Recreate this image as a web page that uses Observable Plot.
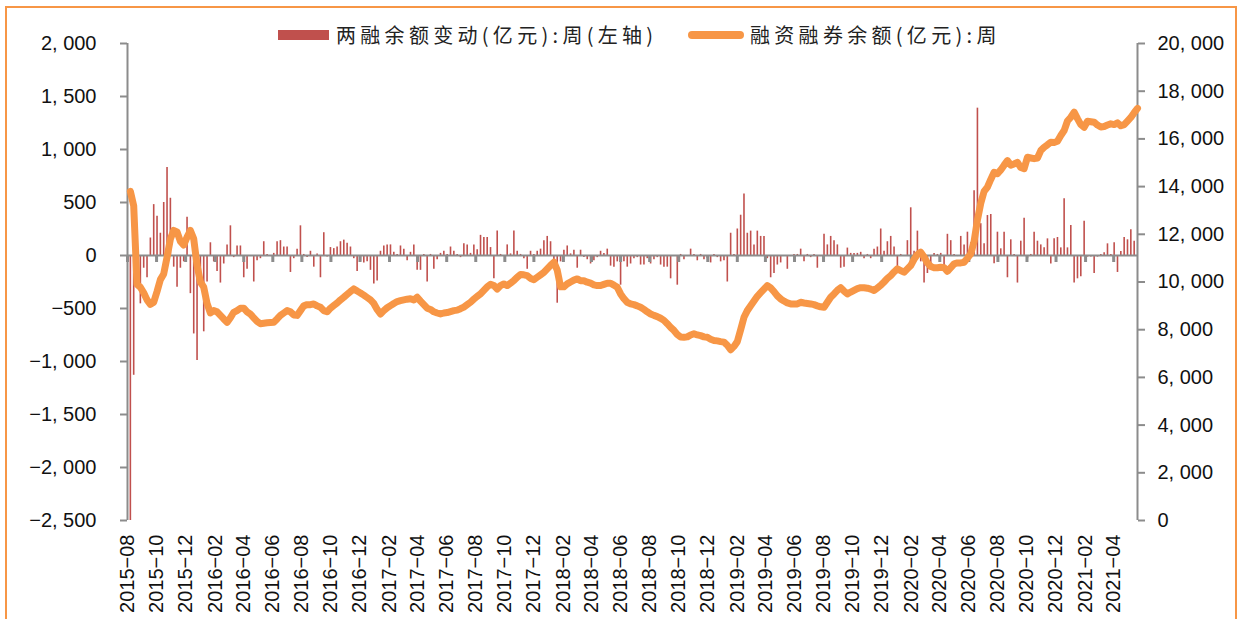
<!DOCTYPE html>
<html><head><meta charset="utf-8">
<script src="https://cdn.jsdelivr.net/npm/d3@7"></script>
<script src="https://cdn.jsdelivr.net/npm/@observablehq/plot@0.6"></script>
<style>
body{margin:0;background:#fff;}
#wrap{position:relative;width:1241px;height:619px;overflow:hidden;background:#fff;}
#frame{position:absolute;left:5px;top:6px;width:1232px;height:700px;border:2px solid #F79646;box-sizing:border-box;}
#chart{position:absolute;left:0;top:0;}
.sw{position:absolute;}
.lt{position:absolute;top:22px;font-family:"Noto Sans CJK SC";font-size:20px;letter-spacing:4.3px;color:#222;white-space:nowrap;line-height:26px;}
</style></head>
<body>
<div id="wrap">
  <div id="frame"></div>
  <div id="chart"></div>
  <div class="sw" style="left:278px;top:30px;width:51px;height:10px;background:#C0504D"></div>
  <div class="lt" style="left:336px">两融余额变动(亿元):周(左轴)</div>
  <div class="sw" style="left:688px;top:31px;width:56px;height:8px;background:#F79646;border-radius:4px"></div>
  <div class="lt" style="left:750px">融资融券余额(亿元):周</div>
</div>
<script>
// weekly data, first week ending 2015-08-07, one value per week
const firstWeek = "2015-08-07";
const seriesBarName = "两融余额变动(亿元):周(左轴)";
const seriesLineName = "融资融券余额(亿元):周";

// 融资融券余额 (亿元), weekly
const balance = [
  13800,13200,9900,9780,9550,9250,9060,9150,9600,10100,
  10340,11040,11800,12160,12100,11700,11550,11880,12160,11810,
  10700,10000,9780,9100,8700,8800,8750,8600,8450,8310,
  8500,8730,8800,8900,8900,8750,8650,8500,8350,8250,
  8270,8290,8300,8310,8450,8600,8700,8800,8750,8620,
  8600,8800,9000,9050,9050,9080,9000,8940,8800,8750,
  8900,9010,9120,9250,9360,9480,9600,9710,9620,9540,
  9450,9350,9250,9100,8850,8660,8800,8920,9010,9100,
  9180,9220,9250,9280,9300,9250,9360,9200,9050,8900,
  8850,8750,8700,8660,8700,8720,8760,8800,8820,8880,
  8950,9050,9150,9280,9400,9500,9650,9800,9900,9850,
  9710,9850,9920,9850,9950,10060,10200,10310,10300,10270,
  10150,10100,10200,10300,10400,10550,10700,10830,10500,9800,
  9800,9920,10000,10080,10130,10050,10050,9990,9950,9880,
  9850,9850,9900,9950,9950,9870,9780,9500,9300,9150,
  9080,9050,9000,8940,8850,8750,8660,8600,8550,8480,
  8390,8250,8100,7970,7800,7690,7680,7700,7780,7830,
  7780,7750,7700,7680,7600,7550,7530,7500,7480,7350,
  7160,7300,7500,8000,8520,8800,9000,9200,9400,9550,
  9700,9850,9750,9600,9420,9290,9200,9120,9080,9080,
  9080,9150,9120,9100,9080,9050,9000,8960,8940,9150,
  9360,9500,9650,9760,9620,9500,9580,9650,9720,9760,
  9760,9740,9700,9640,9750,9860,10000,10150,10270,10420,
  10550,10480,10410,10550,10690,10950,11150,11250,11050,10800,
  10650,10600,10600,10620,10600,10450,10600,10760,10800,10800,
  10830,11000,11180,11700,12600,13300,13800,13980,14300,14600,
  14540,14700,14900,15090,14900,14950,15020,14800,14750,15230,
  15200,15170,15200,15510,15650,15750,15860,15850,15900,16140,
  16350,16750,16910,17120,16850,16600,16490,16740,16720,16700,
  16580,16500,16520,16580,16630,16600,16670,16550,16600,16750,
  16900,17100,17280
];

// 两融余额变动 (亿元), weekly
const change = [
  -2500,-1130,236,-456,-120,-210,165,480,370,210,
  500,830,540,-110,-300,-120,-60,360,-360,-740,
  -990,-270,-720,-250,120,-60,-150,-260,-80,100,
  280,-20,90,90,-210,-130,-10,-250,-50,-30,
  130,10,-10,20,130,140,80,80,-160,-30,
  60,280,10,-20,40,-110,15,-210,215,-15,
  75,65,80,130,145,115,80,-30,-150,-60,
  -70,-60,-140,-270,-240,40,90,100,100,30,
  10,90,60,-50,30,100,-140,-140,10,-250,
  10,-130,-40,20,40,10,80,40,10,-20,
  110,100,20,100,55,190,170,170,75,-220,
  230,10,-10,100,15,230,40,10,-30,-130,
  40,10,40,60,140,180,130,-50,-450,-60,
  50,90,15,50,-120,50,-20,-40,-80,-50,
  -20,40,20,60,-100,-110,-60,-280,-60,-110,
  -80,-30,-20,-90,-90,-30,-80,-40,-20,-90,
  -110,-110,-220,-10,-280,10,-40,-10,60,10,
  -50,10,-40,-30,-70,10,-20,-60,-50,-250,
  210,10,250,380,580,210,230,100,230,180,
  180,-30,-210,-170,-90,-70,-10,-130,-10,10,
  10,60,-60,10,-20,10,-120,-10,200,100,
  180,140,100,-120,-110,70,20,20,20,30,
  -30,10,-30,60,80,250,40,130,180,80,
  -140,10,-10,140,450,40,230,-60,-260,-170,
  -140,20,10,20,-130,200,140,10,-10,180,
  100,220,120,610,1390,300,110,377,387,-79,
  220,63,220,-210,148,10,-260,135,352,-30,
  10,220,135,100,72,157,-80,157,170,72,
  535,72,283,-260,-220,-200,324,-15,-15,-170,
  -15,10,25,110,10,120,-160,38,170,148,
  243,135,0
];

const xTickLabels = ["2015-08","2015-10","2015-12","2016-02","2016-04","2016-06","2016-08","2016-10","2016-12",
  "2017-02","2017-04","2017-06","2017-08","2017-10","2017-12","2018-02","2018-04","2018-06","2018-08",
  "2018-10","2018-12","2019-02","2019-04","2019-06","2019-08","2019-10","2019-12","2020-02","2020-04",
  "2020-06","2020-08","2020-10","2020-12","2021-02","2021-04"];
const leftTicks = [-2500,-2000,-1500,-1000,-500,0,500,1000,1500,2000];
const rightTicks = [0,2000,4000,6000,8000,10000,12000,14000,16000,18000,20000];
const leftDomain = [-2500, 2000];
const rightDomain = [0, 20000];

const parseMonth = d3.utcParse("%Y-%m");
const start = d3.utcParse("%Y-%m-%d")(firstWeek);
const rows = balance.map((b, i) => ({date: d3.utcDay.offset(start, 7 * i), bal: b, chg: change[i]}));
const tickDates = xTickLabels.map(parseMonth);
const xStart = tickDates[0];
const xEnd = rows[rows.length - 1].date;

const k = (leftDomain[1] - leftDomain[0]) / (rightDomain[1] - rightDomain[0]);
const toLeft = v => leftDomain[0] + (v - rightDomain[0]) * k;
const fromLeft = y => rightDomain[0] + (y - leftDomain[0]) / k;
const fmt = v => d3.format(",")(v).replace(",", ", ");
const labelOf = new Map(xTickLabels.map((s, i) => [+tickDates[i], s.replace("-", "\u2212")]));
const gray = "#8c8c8c";

const chart = Plot.plot({
  width: 1241, height: 619,
  marginLeft: 127, marginRight: 104, marginTop: 43, marginBottom: 99,
  style: {fontFamily: "'Liberation Sans', Arial, sans-serif", fontSize: "20px", color: "#111", background: "transparent"},
  x: {type: "utc", domain: [xStart, xEnd]},
  y: {domain: leftDomain},
  marks: [
    Plot.ruleX(rows, {x: "date", y1: 0, y2: "chg", stroke: "#C0504D", strokeWidth: 1.6}),
    Plot.ruleY([0], {stroke: gray, strokeWidth: 2}),
    Plot.ruleX(tickDates, {x: d => d, y1: 0, y2: 0, insetBottom: -7, stroke: gray, strokeWidth: 3}),
    Plot.ruleX([xStart], {stroke: gray, strokeWidth: 2}),
    Plot.ruleX([xEnd], {stroke: gray, strokeWidth: 2}),
    Plot.axisY(leftTicks, {anchor: "left", tickSize: 7, tickPadding: 24, stroke: gray, strokeWidth: 2,
      tickFormat: fmt, fontSize: 20, label: null}),
    Plot.axisY(rightTicks.map(toLeft), {anchor: "right", tickSize: 7, tickPadding: 13, stroke: gray, strokeWidth: 2,
      tickFormat: d => fmt(Math.round(fromLeft(d))), fontSize: 20, label: null}),
    Plot.axisX(tickDates, {anchor: "bottom", tickSize: 0, tickPadding: 14, tickRotate: -90,
      tickFormat: d => labelOf.get(+d), fontSize: 20, label: null}),
    Plot.line(rows, {x: "date", y: d => toLeft(d.bal), stroke: "#F79646", strokeWidth: 7,
      strokeLinejoin: "round", strokeLinecap: "round"})
  ]
});
document.getElementById("chart").appendChild(chart);
</script>
</body></html>
